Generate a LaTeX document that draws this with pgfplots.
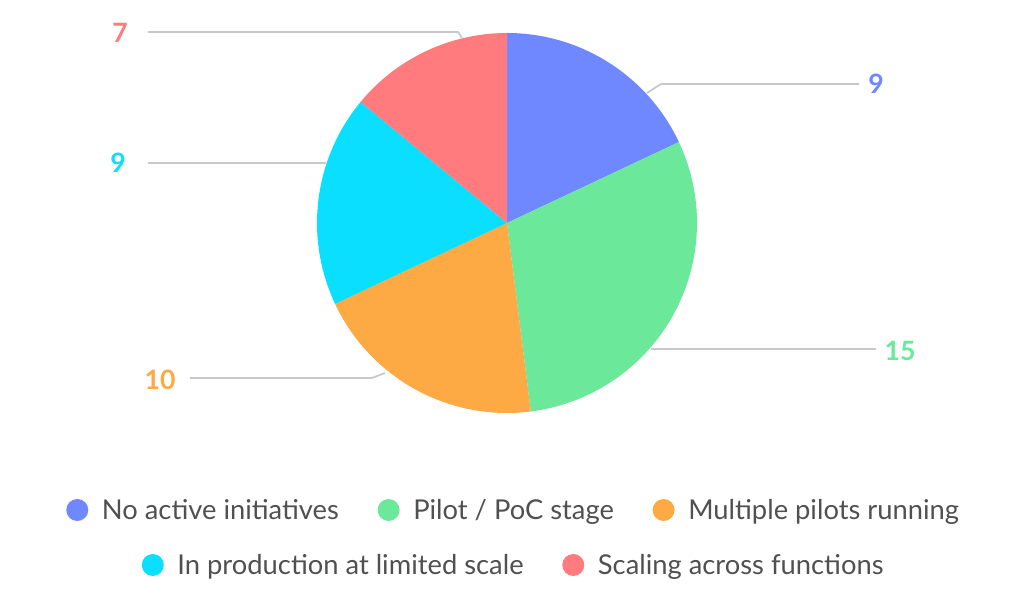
\documentclass[border=0pt]{standalone}
\usepackage{fontspec}
\setmainfont{Lato}
\usepackage{pgfplots}
\usepackage{pgfplotstable}
\pgfplotsset{compat=1.18}
\definecolor{c0}{HTML}{7088FF}
\definecolor{c1}{HTML}{6BE89A}
\definecolor{c2}{HTML}{FDA944}
\definecolor{c3}{HTML}{0ADFFF}
\definecolor{c4}{HTML}{FF7B7D}
\definecolor{leader}{HTML}{C8C8C8}
\definecolor{txt}{HTML}{505050}
\pgfplotstableread[col sep=comma]{
label,value
No active initiatives,9
Pilot / PoC stage,15
Multiple pilots running,10
In production at limited scale,9
Scaling across functions,7
}\datatable
\def\total{0}%
\pgfplotsforeachungrouped \i in {0,...,4}{%
  \pgfplotstablegetelem{\i}{value}\of\datatable
  \pgfmathsetmacro\total{\total+\pgfplotsretval}%
}%
\def\cur{90}%
\pgfplotsforeachungrouped \i in {0,...,4}{%
  \pgfplotstablegetelem{\i}{value}\of\datatable
  \expandafter\xdef\csname v\i\endcsname{\pgfplotsretval}%
  \expandafter\xdef\csname sa\i\endcsname{\cur}%
  \pgfmathsetmacro\cur{\cur-360*\pgfplotsretval/\total}%
  \expandafter\xdef\csname ea\i\endcsname{\cur}%
}%
\pgfplotsset{
  base/.style={x=0.75pt, y=0.75pt, xmin=0, xmax=1024, ymin=0, ymax=591,
    hide axis, clip=false, scale only axis,
    legend image code/.code={\path[draw=none, fill=none] (0pt,0pt) -- (16.5pt,0pt);\fill[##1, draw=none] (0pt,0pt) circle (8.25pt);},
    legend columns=-1,
  },
}
\begin{document}
\begin{tikzpicture}
\begin{axis}[base,
  legend style={at={(axis cs:514,81)}, anchor=center, draw=none, fill=none,
    font=\fontsize{20.5}{24}\selectfont, text=txt,
    /tikz/every even column/.append style={column sep=27pt}},
]
\path (axis cs:0,0) rectangle (axis cs:1024,591);
\pgfplotsinvokeforeach{0,...,4}{
  \fill[c#1] (axis cs:507,368) -- ++(\csname sa#1\endcsname:142.5pt)
     arc[start angle=\csname sa#1\endcsname, end angle=\csname ea#1\endcsname, radius=142.5pt] -- cycle;
}
\draw[leader, line width=1.3pt] (axis cs:647,498) -- (axis cs:661,507) -- (axis cs:859,507);
\draw[leader, line width=1.3pt] (axis cs:651,242) -- (axis cs:876,242);
\draw[leader, line width=1.3pt] (axis cs:385,218) -- (axis cs:372,213) -- (axis cs:190,213);
\draw[leader, line width=1.3pt] (axis cs:326,428) -- (axis cs:148,428);
\draw[leader, line width=1.3pt] (axis cs:462,553) -- (axis cs:458,559) -- (axis cs:148,559);
\tikzset{lab/.style={font=\bfseries\fontsize{20}{24}\selectfont, inner sep=0pt}}
\node[lab, text=c0] at (axis cs:876,507) {\csname v0\endcsname};
\node[lab, text=c1] at (axis cs:900,240) {\csname v1\endcsname};
\node[lab, text=c2] at (axis cs:160,211) {\csname v2\endcsname};
\node[lab, text=c3] at (axis cs:118,428) {\csname v3\endcsname};
\node[lab, text=c4] at (axis cs:120,558) {\csname v4\endcsname};
\addlegendimage{fill=c0}\addlegendentry{No active initiatives}
\addlegendimage{fill=c1}\addlegendentry{Pilot / PoC stage}
\addlegendimage{fill=c2}\addlegendentry{Multiple pilots running}
\end{axis}
\begin{axis}[base,
  legend style={at={(axis cs:514,26)}, anchor=center, draw=none, fill=none,
    font=\fontsize{20.5}{24}\selectfont, text=txt,
    /tikz/every even column/.append style={column sep=27pt}},
]
\addlegendimage{fill=c3}\addlegendentry{In production at limited scale}
\addlegendimage{fill=c4}\addlegendentry{Scaling across functions}
\end{axis}
\end{tikzpicture}
\end{document}
